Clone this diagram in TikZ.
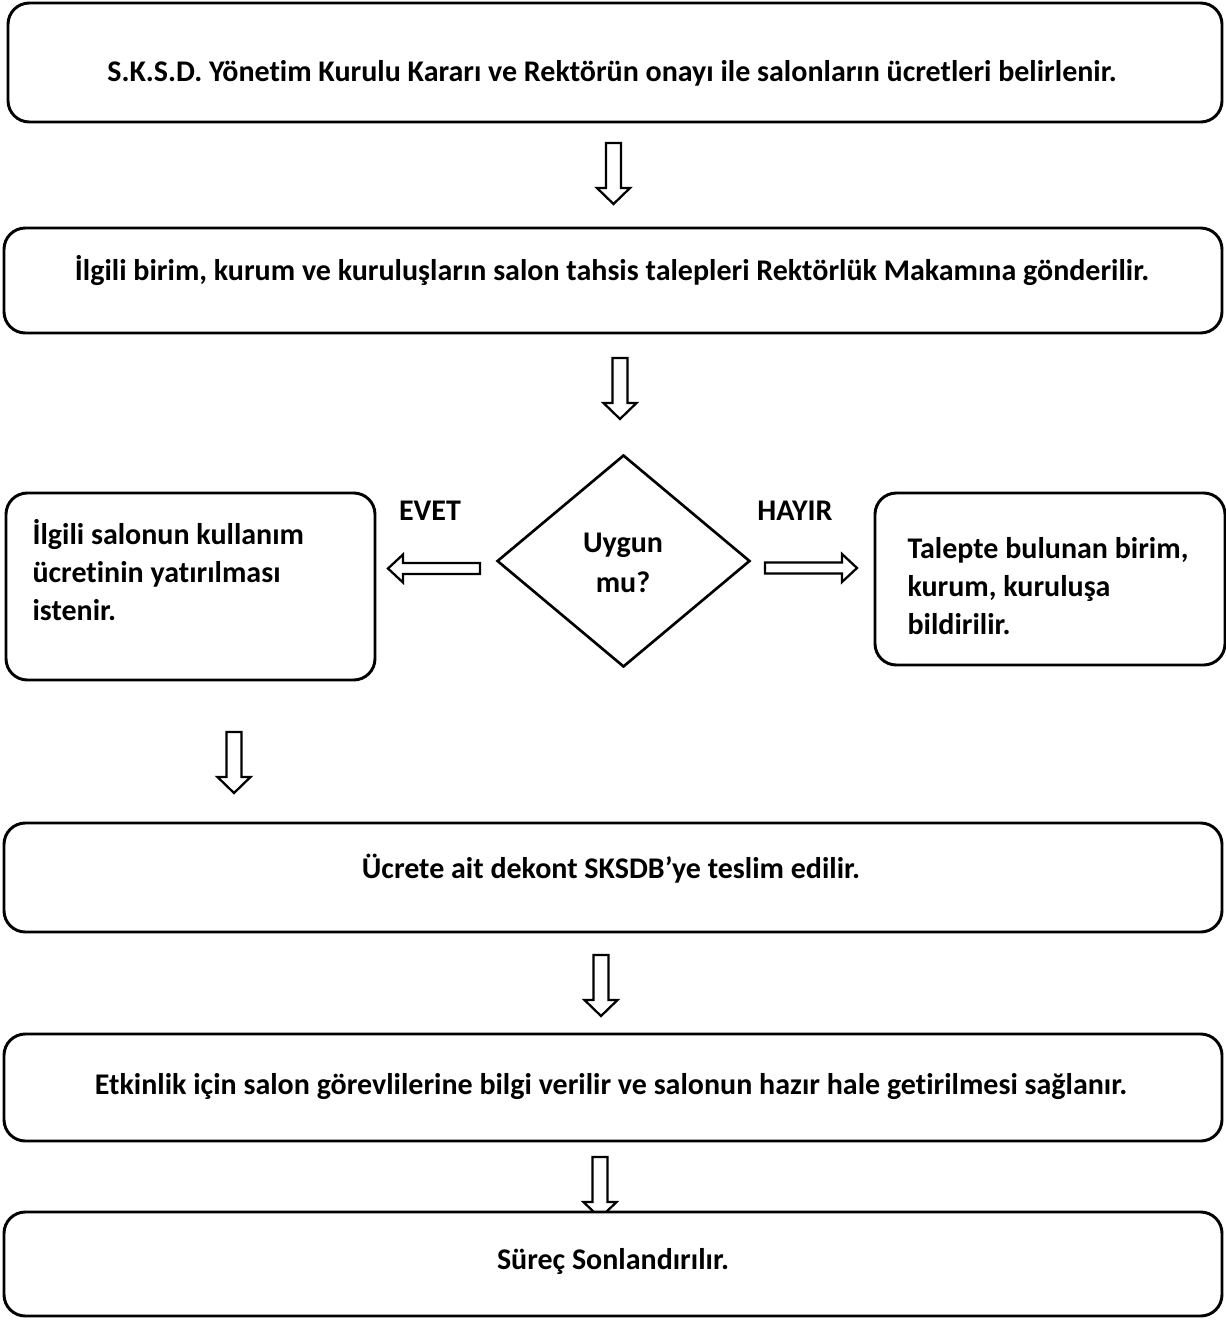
\documentclass[tikz,border=0pt]{standalone}
\usepackage{fontspec}
\setmainfont{Carlito}[Ligatures=NoCommon]
\usetikzlibrary{shapes.geometric}
\newcommand\upx{0.375pt}

\tikzset{
  box/.style={draw,line width=1.1pt,rounded corners=8pt,fill=white,inner sep=0pt},
  lbl/.style={font=\bfseries\fontsize{11.25}{14.2}\selectfont,inner sep=0pt},
  arrowline/.style={draw,line width=0.85pt,fill=white,line join=miter},
  varrow/.pic={\path[arrowline] (-7.5,0) -- (-7.5,45) -- (-16.5,45) -- (0,61) -- (16.5,45) -- (7.5,45) -- (7.5,0) -- cycle;},
  harrow/.pic={\path[arrowline] (0,-5.5) -- (77,-5.5) -- (77,-14) -- (92,0) -- (77,14) -- (77,5.5) -- (0,5.5) -- cycle;}
}

\begin{document}
\begin{tikzpicture}[x=\upx,y=-\upx]
    \useasboundingbox (0,0) rectangle (1226,1320);
    % block arrows
    \pic at (613.5,143) {varrow};
    \pic at (620,358) {varrow};
    \pic at (234,732) {varrow};
    \pic at (601,955) {varrow};
    \pic at (600,1157) {varrow};
    \pic[xscale=-1] at (480,568.5) {harrow};
    \pic at (765,568) {harrow};
    % boxes
    \node[box,minimum width=1214*\upx,minimum height=119*\upx] (karar) at (615,62.5) {};
    \node[box,minimum width=1218*\upx,minimum height=105*\upx] (talep) at (613,280.5) {};
    \node[draw,diamond,line width=1pt,inner sep=0pt,minimum width=253*\upx,minimum height=212*\upx] (uygun) at (623.5,561) {};
    \node[box,minimum width=369*\upx,minimum height=187*\upx] (ucret) at (190.5,586.5) {};
    \node[box,minimum width=350*\upx,minimum height=172*\upx] (bildir) at (1050,579) {};
    \node[box,minimum width=1218*\upx,minimum height=109*\upx] (dekont) at (613,877.5) {};
    \node[box,minimum width=1218*\upx,minimum height=107*\upx] (etkinlik) at (613,1087.5) {};
    \node[box,minimum width=1218*\upx,minimum height=104*\upx] (son) at (613,1264) {};
    % texts
    \node[lbl,anchor=base] (tkarar) at (612,82) {S.K.S.D. Yönetim Kurulu Kararı ve Rektörün onayı ile salonların ücretleri belirlenir.};
    \node[lbl,anchor=base] (ttalep) at (612,280) {İlgili birim, kurum ve kuruluşların salon tahsis talepleri Rektörlük Makamına gönderilir.};
    \node[lbl,anchor=base] (evet) at (430,520) {EVET};
    \node[lbl,anchor=base] (hayir) at (795,520) {HAYIR};
    \node[lbl,anchor=base,align=center,font=\bfseries\fontsize{11.25}{14.8}\selectfont] (tuygun) at (623,592) {Uygun\\mu?};
    \node[lbl,anchor=north west,align=left] (tucret) at (32,519) {İlgili salonun kullanım\\ücretinin yatırılması\\istenir.};
    \node[lbl,anchor=north west,align=left] (tbildir) at (907,537) {Talepte bulunan birim,\\kurum, kuruluşa\\bildirilir.};
    \node[lbl,anchor=base] (tdekont) at (611,878) {Ücrete ait dekont SKSDB’ye teslim edilir.};
    \node[lbl,anchor=base] (tetkinlik) at (611,1094) {Etkinlik için salon görevlilerine bilgi verilir ve salonun hazır hale getirilmesi sağlanır.};
    \node[lbl,anchor=base] (tson) at (613,1269) {Süreç Sonlandırılır.};
\end{tikzpicture}
\end{document}
